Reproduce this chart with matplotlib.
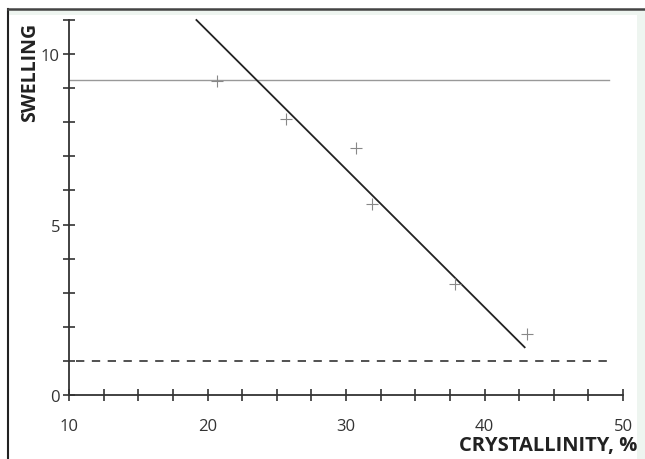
import numpy as np
from matplotlib import pyplot as plt
from matplotlib.ticker import MultipleLocator
from matplotlib.lines import Line2D
from matplotlib.patches import Rectangle

# measured points (crystallinity %, swelling)
cryst = [20.7, 25.7, 30.7, 31.9, 37.9, 43.1]
swelling = [9.2, 8.1, 7.25, 5.6, 3.25, 1.8]

# fitted line ends
fit_x = [19.2, 42.9]
fit_y = [11.0, 1.4]

# reference levels
upper_level = 9.25
lower_level = 1.0
level_xmax = 49.0

x_ticks = [10, 20, 30, 40, 50]
y_ticks = [0, 5, 10]

plt.rcParams['font.family'] = ['Open Sans', 'DejaVu Sans']

fig = plt.figure(figsize=(6.45, 4.6), dpi=100)
fig.patch.set_facecolor('white')

# frame around the picture
fig.patches.append(Rectangle((637 / 645, 0), 8 / 645, 1 - 11 / 460, transform=fig.transFigure,
                             facecolor='#eef5f0', edgecolor='none', zorder=0))
fig.patches.append(Rectangle((9 / 645, 1 - 16 / 460), 628 / 645, 5 / 460, transform=fig.transFigure,
                             facecolor='#eef5f0', edgecolor='none', zorder=0))
fig.lines.append(Line2D([8 / 645, 8 / 645], [0, 1 - 10 / 460], transform=fig.transFigure,
                        color='#222222', linewidth=1.5))
fig.lines.append(Line2D([8 / 645, 1], [1 - 10 / 460, 1 - 10 / 460], transform=fig.transFigure,
                        color='#444444', linewidth=1.8))

ax = fig.add_axes([69 / 645, 1 - 396 / 460, (623 - 69) / 645, (396 - 21) / 460])
ax.set_facecolor('none')

ax.plot([10, level_xmax], [upper_level, upper_level], color='#999999', linewidth=1.0)
ax.plot([10.5, level_xmax], [lower_level, lower_level], color='#333333', linewidth=1.2,
        dashes=(5, 4.5))
ax.plot(fit_x, fit_y, color='#222222', linewidth=1.3, clip_on=False)
ax.scatter(cryst, swelling, marker='+', s=70, color='#888888', linewidths=0.8, zorder=3)

ax.set_xlim(10, 50)
ax.set_ylim(0, 11)

for s in ['top', 'right']:
    ax.spines[s].set_visible(False)
for s in ['left', 'bottom']:
    ax.spines[s].set_color('#333333')
    ax.spines[s].set_linewidth(1.3)

ax.set_xticks(x_ticks)
ax.set_yticks(y_ticks)
ax.xaxis.set_minor_locator(MultipleLocator(2.5))
ax.yaxis.set_minor_locator(MultipleLocator(1))
ax.tick_params(which='both', direction='inout', color='#333333', width=1.2, length=9)
ax.tick_params(axis='x', which='major', pad=12, labelsize=12, labelcolor='#333333')
ax.tick_params(axis='y', which='major', pad=2, labelsize=12, labelcolor='#333333')

fig.text(30 / 645, 1 - 72 / 460, 'SWELLING', rotation=90, ha='center', va='center',
         fontsize=14, fontweight='bold', color='#222222')
fig.text(637 / 645, 1 - 446 / 460, 'CRYSTALLINITY, %', ha='right', va='center',
         fontsize=14.5, fontweight='bold', color='#222222')

plt.savefig('out.png', dpi=100)
